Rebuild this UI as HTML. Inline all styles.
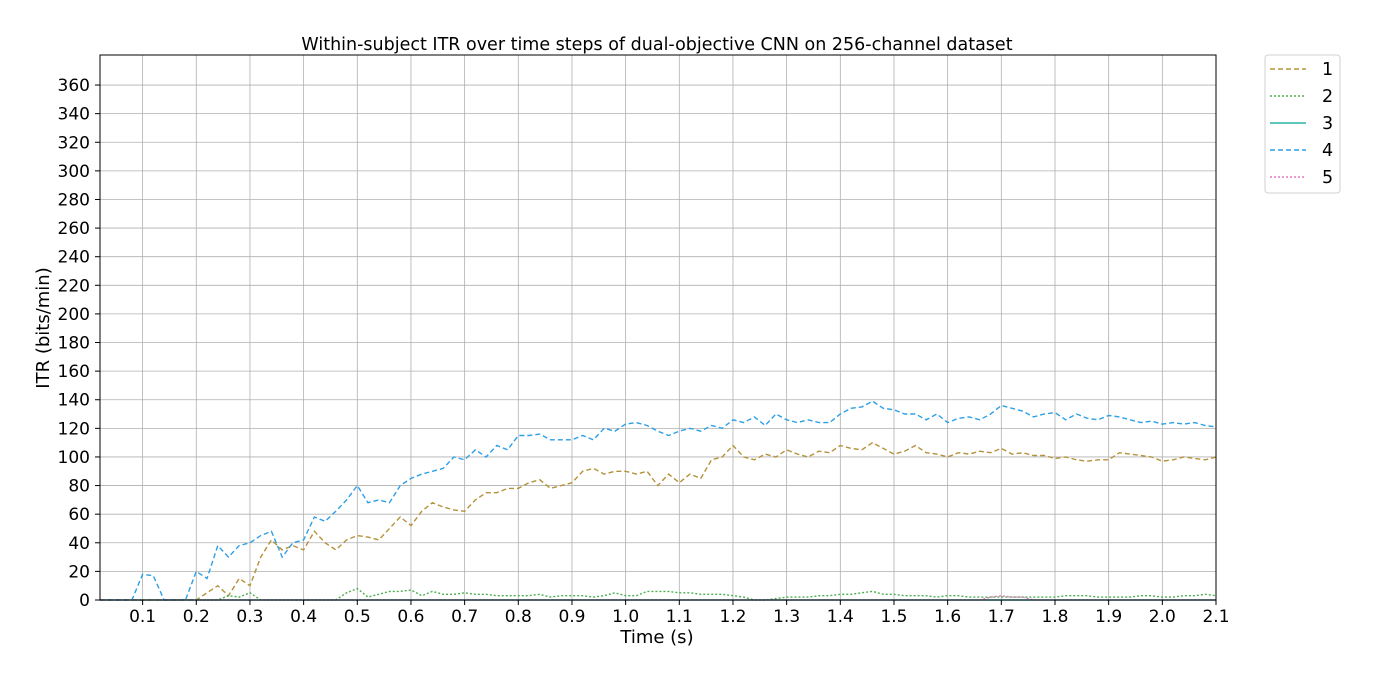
<!DOCTYPE html>
<html><head><meta charset="utf-8"><style>
body{margin:0;background:#fff;font-family:"Liberation Sans","DejaVu Sans",sans-serif;}
svg text{font-family:"DejaVu Sans","Liberation Sans",sans-serif;fill:#000;}
</style></head><body>
<svg id="chart" width="1376" height="682" xmlns="http://www.w3.org/2000/svg">
<text x="657" y="50" font-size="17.5" text-anchor="middle">Within-subject ITR over time steps of dual-objective CNN on 256-channel dataset</text>
<text x="657" y="643" font-size="18" text-anchor="middle">Time (s)</text>
<text transform="translate(49,328) rotate(-90)" font-size="18" text-anchor="middle">ITR (bits/min)</text>
<g id="grid"></g><g id="series"></g><g id="ticks"></g>
<rect x="100" y="55" width="1116" height="545" fill="none" stroke="#000" stroke-width="1"/>
<g id="legend"></g>
</svg>
<script>
const seriesNames = ["1","2","3","4","5"];
const seriesColors = ["#b5923a","#4caf50","#2ab3a8","#2d9fe6","#e377c2"];
const seriesDash = ["5,3","2,2","","5,3","2,2"];
const xTicks = [0.1,0.2,0.3,0.4,0.5,0.6,0.7,0.8,0.9,1.0,1.1,1.2,1.3,1.4,1.5,1.6,1.7,1.8,1.9,2.0,2.1];
const yTicks = [0,20,40,60,80,100,120,140,160,180,200,220,240,260,280,300,320,340,360];
const s1 = [0,0,0,0,0,0,0,0,0,0,5,10,3,15,10,30,42,35,38,35,48,40,35,42,45,44,42,50,58,52,62,68,65,63,62,70,75,75,78,78,82,84,78,80,82,90,92,88,90,90,88,90,80,88,82,88,85,98,100,108,100,98,102,100,105,102,100,104,103,108,106,105,110,106,102,104,108,103,102,100,103,102,104,103,106,102,103,101,101,99,100,98,97,98,98,103,102,101,100,97,98,100,99,98,100];
const s2 = [0,0,0,0,0,0,0,0,0,0,0,0,3,2,5,0,0,0,0,0,0,0,0,5,8,2,4,6,6,7,3,6,4,4,5,4,4,3,3,3,3,4,2,3,3,3,2,3,5,3,3,6,6,6,5,5,4,4,4,3,2,0,0,1,2,2,2,3,3,4,4,5,6,4,4,3,3,3,2,3,3,2,2,2,2,2,2,2,2,2,3,3,3,2,2,2,2,3,3,2,2,3,3,4,3];
const s3 = new Array(105).fill(0);
const s4 = [0,0,0,0,18,17,0,0,0,20,15,38,30,38,40,45,48,30,40,42,58,55,62,70,80,68,70,68,80,85,88,90,92,100,98,105,100,108,105,115,115,116,112,112,112,115,112,120,118,123,124,122,118,115,118,120,118,122,120,126,124,128,122,130,126,124,126,124,124,130,134,135,139,134,133,130,130,126,130,124,127,128,126,130,136,134,132,128,130,131,126,130,127,126,129,128,126,124,125,123,124,123,124,122,121];
const s5 = [0,0,0,0,0,0,0,0,0,0,0,0,0,0,0,0,0,0,0,0,0,0,0,0,0,0,0,0,0,0,0,0,0,0,0,0,0,0,0,0,0,0,0,0,0,0,0,0,0,0,0,0,0,0,0,0,0,0,0,0,0,0,0,0,0,0,0,0,0,0,0,0,0,0,0,0,0,0,0,0,0,0,0,2,3,2,2,0,0,0,0,0,0,0,0,0,0,0,0,0,0,0,0,0,0];
const allSeries = [s1,s2,s3,s4,s5];
const NS="http://www.w3.org/2000/svg";
const X0=100,X1=1216,Y0=600,Y1=55;
const xmin=0.0206,xmax=2.1,ymin=0,ymax=381;
function xs(v){return X0+(v-xmin)/(xmax-xmin)*(X1-X0);}
function ys(v){return Y0-(v-ymin)/(ymax-ymin)*(Y0-Y1);}
function mk(t,a,p){const e=document.createElementNS(NS,t);for(const k in a)e.setAttribute(k,a[k]);p.appendChild(e);return e;}
const grid=document.getElementById('grid'),ticks=document.getElementById('ticks'),ser=document.getElementById('series'),leg=document.getElementById('legend');
xTicks.forEach(t=>{const x=xs(t);
 const g=mk('line',{x1:x,x2:x,y1:Y1,y2:Y0,stroke:'#b0b0b0','stroke-width':0.8},grid);
 
 
 const tk=mk('line',{x1:x,x2:x,y1:Y0,y2:Y0+5,stroke:'#000'},ticks);
 
 
 const tx=mk('text',{x:x,y:Y0+22,'font-size':17,'text-anchor':'middle'},ticks);tx.textContent=t.toFixed(1);
 
 
});
yTicks.forEach(t=>{const y=ys(t);
 const g=mk('line',{x1:X0,x2:X1,y1:y,y2:y,stroke:'#b0b0b0','stroke-width':0.8},grid);
 
 
 const tk=mk('line',{x1:X0-5,x2:X0,y1:y,y2:y,stroke:'#000'},ticks);
 
 
 const tx=mk('text',{x:X0-10,y:y+6,'font-size':17,'text-anchor':'end'},ticks);tx.textContent=t;
 
 
});
allSeries.forEach((d,si)=>{
 const pts=[xs(xmin).toFixed(1)+','+ys(0).toFixed(1)].concat(d.map((v,i)=>xs((i+1)*0.02).toFixed(1)+','+ys(v).toFixed(1))).join(' ');
 const a={points:pts,fill:'none',stroke:seriesColors[si],'stroke-width':1.4};
 if(seriesDash[si])a['stroke-dasharray']=seriesDash[si];
 const p=mk('polyline',a,ser);
 
 
});
const box=mk('rect',{x:1265,y:55,width:75,height:138,rx:3,fill:'#fff',stroke:'#d0d0d0'},leg);


seriesNames.forEach((n,i)=>{const y=69+i*27;
 const a={x1:1270,x2:1306,y1:y,y2:y,stroke:seriesColors[i],'stroke-width':1.4};
 if(seriesDash[i])a['stroke-dasharray']=seriesDash[i];
 const l=mk('line',a,leg);
 
 
 const t=mk('text',{x:1322,y:y+6,'font-size':17.5},leg);t.textContent=n;
 
 
});
</script>
</body></html>
